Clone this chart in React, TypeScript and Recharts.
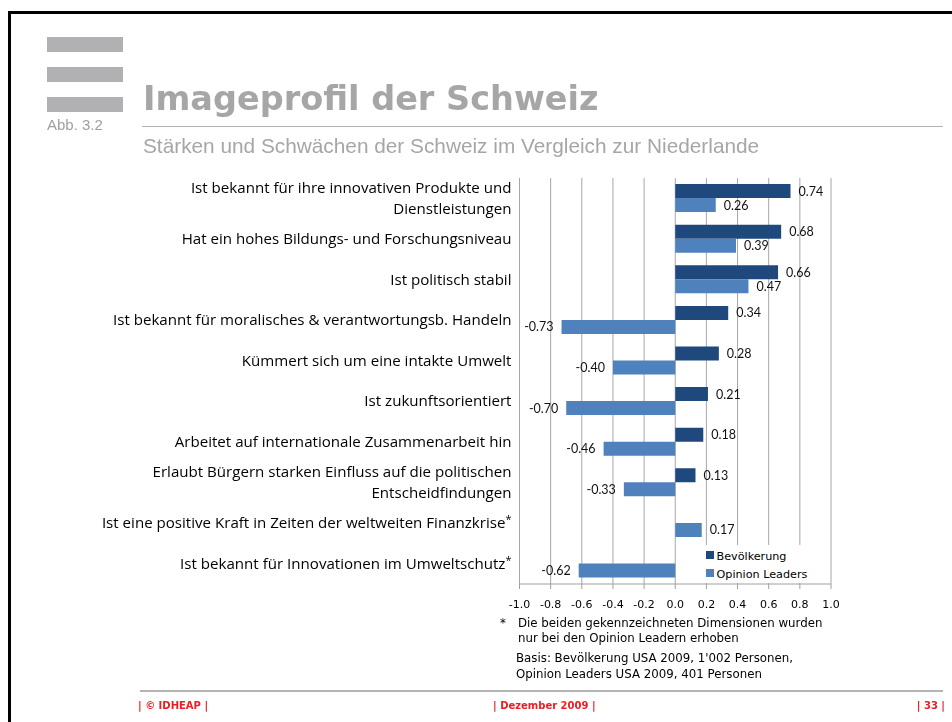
import React from 'react';
import { BarChart, Bar, XAxis, YAxis, CartesianGrid, Legend, LabelList } from 'recharts';

const categories = [
  'Ist bekannt für ihre innovativen Produkte und\nDienstleistungen',
  'Hat ein hohes Bildungs- und Forschungsniveau',
  'Ist politisch stabil',
  'Ist bekannt für moralisches & verantwortungsb. Handeln',
  'Kümmert sich um eine intakte Umwelt',
  'Ist zukunftsorientiert',
  'Arbeitet auf internationale Zusammenarbeit hin',
  'Erlaubt Bürgern starken Einfluss auf die politischen\nEntscheidfindungen',
  'Ist eine positive Kraft in Zeiten der weltweiten Finanzkrise*',
  'Ist bekannt für Innovationen im Umweltschutz*',
];
const bevoelkerung: (number | null)[] = [0.74, 0.68, 0.66, 0.34, 0.28, 0.21, 0.18, 0.13, null, null];
const opinionLeaders: (number | null)[] = [0.26, 0.39, 0.47, -0.73, -0.4, -0.7, -0.46, -0.33, 0.17, -0.62];
const xTicks = [-1.0, -0.8, -0.6, -0.4, -0.2, 0.0, 0.2, 0.4, 0.6, 0.8, 1.0];
const seriesNames = ['Bevölkerung', 'Opinion Leaders'];
const seriesColors = ['#1f497d', '#4f81bd'];

const data = categories.map((name, i) => ({ name, bev: bevoelkerung[i], opl: opinionLeaders[i] }));

const FONT_CAT = '"Open Sans", "Noto Sans", sans-serif';
const FONT_LABEL = 'Lato, "Open Sans", sans-serif';
const FONT_UI = '"DejaVu Sans", Verdana, sans-serif';
const FONT_ARIAL = '"Liberation Sans", Arial, sans-serif';

function CategoryTick(props: any) {
  const { x, y, payload } = props;
  const lines = String(payload.value).split('\n');
  const lh = 21;
  const startDy = -((lines.length - 1) * lh) / 2 + 5;
  return (
    <text x={x} y={y} textAnchor="end" fontFamily={FONT_CAT} fontSize={15.1} fill="#000">
      {lines.map((ln, i) => {
        const star = ln.endsWith('*');
        const body = star ? ln.slice(0, -1) : ln;
        return (
          <tspan key={i} x={x} dy={i === 0 ? startDy : lh}>
            {body}
            {star ? (
              <tspan fontSize={11} dy={-5}>
                *
              </tspan>
            ) : null}
          </tspan>
        );
      })}
    </text>
  );
}

function ValueLabel(props: any) {
  const { x, y, width, height, value } = props;
  if (value === null || value === undefined) return null;
  const v = Number(value);
  const left = Math.min(Number(x), Number(x) + Number(width));
  const right = Math.max(Number(x), Number(x) + Number(width));
  const cy = Number(y) + Number(height) / 2;
  const pos = v >= 0;
  return (
    <text
      x={pos ? right + 8 : left - 8}
      y={cy}
      dy={4.5}
      textAnchor={pos ? 'start' : 'end'}
      fontFamily={FONT_LABEL}
      fontSize={12.5}
      fill="#111"
    >
      {v.toFixed(2)}
    </text>
  );
}

function LegendBox(props: any) {
  const payload = props.payload || [];
  return (
    <svg width={115} height={38} style={{ display: 'block' }}>
      <rect x={0} y={0} width={115} height={38} fill="#fff" />
      {payload.map((p: any, i: number) => (
        <g key={i}>
          <rect x={6} y={6 + i * 18} width={8} height={8} fill={p.color} />
          <text x={16.5} y={11 + i * 17.5} dy={4} fontFamily={FONT_UI} fontSize={11.2} fill="#000">
            {p.value}
          </text>
        </g>
      ))}
    </svg>
  );
}

export default function App() {
  return (
    <div style={{ position: 'relative', width: 936, height: 706, fontFamily: FONT_UI }}>
      <div
        style={{
          position: 'fixed',
          left: 8,
          top: 11,
          width: 980,
          height: 800,
          borderTop: '3px solid #000',
          borderLeft: '3px solid #000',
          boxSizing: 'border-box',
        }}
      />
      <svg width={936} height={706} style={{ position: 'absolute', left: 0, top: 0, overflow: 'visible' }}>
        <rect x={39} y={29} width={76} height={15} fill="#b1b1b3" />
        <rect x={39} y={59} width={76} height={15} fill="#b1b1b3" />
        <rect x={39} y={89} width={76} height={15} fill="#b1b1b3" />
        <text x={39} y={122} fontFamily={FONT_ARIAL} fontSize={15} fill="#a0a0a0">
          Abb. 3.2
        </text>
        <text x={135} y={102} fontFamily={FONT_UI} fontWeight="bold" fontSize={33.5} fill="#a6a6a6">
          Imageprofil der Schweiz
        </text>
        <line x1={134} y1={118.5} x2={935} y2={118.5} stroke="#b3b3b3" strokeWidth={1} />
        <text x={135} y={145} fontFamily={FONT_ARIAL} fontSize={20.8} fill="#a6a6a6">
          Stärken und Schwächen der Schweiz im Vergleich zur Niederlande
        </text>

        <text x={492} y={619} fontFamily={FONT_UI} fontSize={11.8} fill="#000">
          *
        </text>
        <text x={510} y={619} fontFamily={FONT_UI} fontSize={11.8} fill="#000">
          Die beiden gekennzeichneten Dimensionen wurden
        </text>
        <text x={510} y={634} fontFamily={FONT_UI} fontSize={11.8} fill="#000">
          nur bei den Opinion Leadern erhoben
        </text>
        <text x={508} y={654} fontFamily={FONT_UI} fontSize={11.8} fill="#000">
          Basis: Bevölkerung USA 2009, 1'002 Personen,
        </text>
        <text x={508} y={670} fontFamily={FONT_UI} fontSize={11.8} fill="#000">
          Opinion Leaders USA 2009, 401 Personen
        </text>

        <line x1={132} y1={683} x2={935} y2={683} stroke="#b4b4b4" strokeWidth={2} />
        <text x={130} y={701} fontFamily={FONT_UI} fontWeight="bold" fontSize={10} fill="#ee1d23">
          | © IDHEAP |
        </text>
        <text x={485} y={701} fontFamily={FONT_UI} fontWeight="bold" fontSize={10} fill="#ee1d23">
          | Dezember 2009 |
        </text>
        <text x={937} y={701} textAnchor="end" fontFamily={FONT_UI} fontWeight="bold" fontSize={10} fill="#ee1d23">
          | 33 |
        </text>
      </svg>

      <div style={{ position: 'absolute', left: 0, top: 0 }}>
        <BarChart
          width={936}
          height={640}
          data={data}
          layout="vertical"
          margin={{ top: 170, right: 113, left: 0, bottom: 34 }}
          barCategoryGap="15%"
          barGap={0}
        >
          <CartesianGrid horizontal={false} vertical={true} stroke="#a6a6a6" />
          <XAxis
            type="number"
            domain={[-1, 1]}
            ticks={xTicks}
            interval={0}
            allowDataOverflow
            tickFormatter={(v: number) => v.toFixed(1)}
            axisLine={{ stroke: '#a0a0a0' }}
            tickLine={{ stroke: '#a0a0a0' }}
            tickSize={5}
            tickMargin={11}
            height={30}
            tick={{ fontSize: 11, fill: '#000', fontFamily: FONT_UI }}
          />
          <YAxis
            type="category"
            dataKey="name"
            width={511.5}
            axisLine={false}
            tickLine={false}
            interval={0}
            tick={<CategoryTick />}
          />
          <Legend
            layout="vertical"
            align="center"
            verticalAlign="middle"
            content={<LegendBox />}
            wrapperStyle={{ position: 'absolute', left: 692, top: 537, width: 115, height: 38 }}
          />
          <Bar dataKey="bev" name={seriesNames[0]} fill={seriesColors[0]} isAnimationActive={false}>
            <LabelList dataKey="bev" content={<ValueLabel />} />
          </Bar>
          <Bar dataKey="opl" name={seriesNames[1]} fill={seriesColors[1]} isAnimationActive={false}>
            <LabelList dataKey="opl" content={<ValueLabel />} />
          </Bar>
        </BarChart>
      </div>
    </div>
  );
}
